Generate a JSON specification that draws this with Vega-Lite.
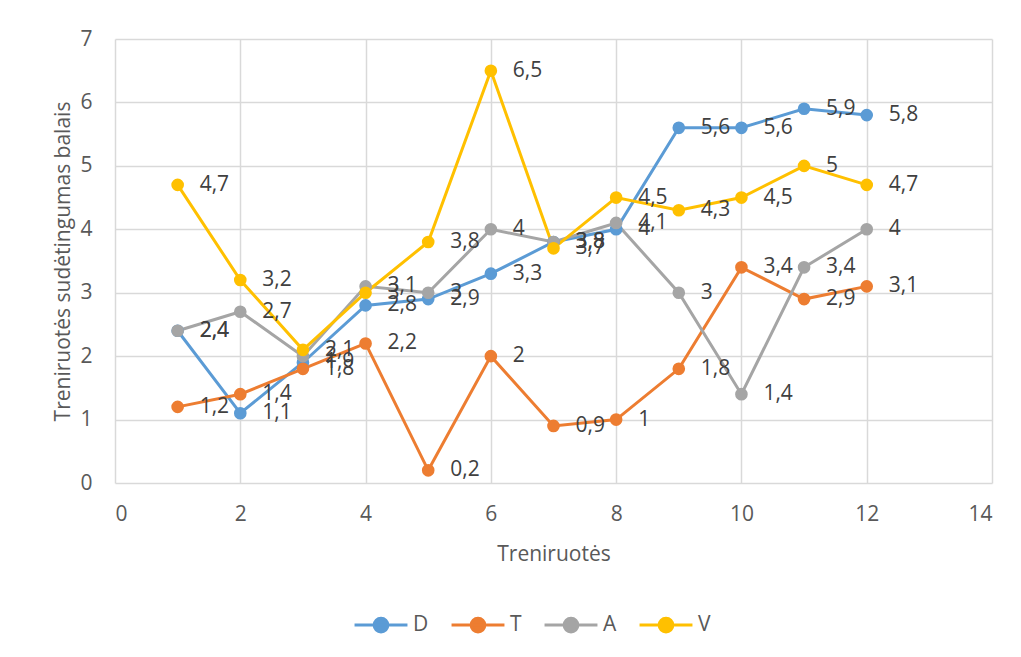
{
  "$schema": "https://vega.github.io/schema/vega-lite/v6.json",
  "autosize": "none",
  "width": 877,
  "height": 444,
  "padding": {"left": 115, "top": 39, "right": 29, "bottom": 174},
  "background": "white",
  "config": {
    "locale": {"number": {"decimal": ",", "thousands": " ", "grouping": [3], "currency": ["", " €"]}},
    "font": "Open Sans",
    "view": {"stroke": null},
    "axis": {
      "domain": false,
      "ticks": false,
      "gridColor": "#D9D9D9",
      "gridWidth": 1.5,
      "labelColor": "#595959",
      "labelFontSize": 21,
      "titleColor": "#595959",
      "titleFontSize": 21,
      "titleFontWeight": "normal"
    }
  },
  "data": {
    "values": [
      {"x": 1, "s": "D", "y": 2.4}, {"x": 2, "s": "D", "y": 1.1}, {"x": 3, "s": "D", "y": 1.9}, {"x": 4, "s": "D", "y": 2.8},
      {"x": 5, "s": "D", "y": 2.9}, {"x": 6, "s": "D", "y": 3.3}, {"x": 7, "s": "D", "y": 3.8}, {"x": 8, "s": "D", "y": 4},
      {"x": 9, "s": "D", "y": 5.6}, {"x": 10, "s": "D", "y": 5.6}, {"x": 11, "s": "D", "y": 5.9}, {"x": 12, "s": "D", "y": 5.8},
      {"x": 1, "s": "T", "y": 1.2}, {"x": 2, "s": "T", "y": 1.4}, {"x": 3, "s": "T", "y": 1.8}, {"x": 4, "s": "T", "y": 2.2},
      {"x": 5, "s": "T", "y": 0.2}, {"x": 6, "s": "T", "y": 2}, {"x": 7, "s": "T", "y": 0.9}, {"x": 8, "s": "T", "y": 1},
      {"x": 9, "s": "T", "y": 1.8}, {"x": 10, "s": "T", "y": 3.4}, {"x": 11, "s": "T", "y": 2.9}, {"x": 12, "s": "T", "y": 3.1},
      {"x": 1, "s": "A", "y": 2.4}, {"x": 2, "s": "A", "y": 2.7}, {"x": 3, "s": "A", "y": 2}, {"x": 4, "s": "A", "y": 3.1},
      {"x": 5, "s": "A", "y": 3}, {"x": 6, "s": "A", "y": 4}, {"x": 7, "s": "A", "y": 3.8}, {"x": 8, "s": "A", "y": 4.1},
      {"x": 9, "s": "A", "y": 3}, {"x": 10, "s": "A", "y": 1.4}, {"x": 11, "s": "A", "y": 3.4}, {"x": 12, "s": "A", "y": 4},
      {"x": 1, "s": "V", "y": 4.7}, {"x": 2, "s": "V", "y": 3.2}, {"x": 3, "s": "V", "y": 2.1}, {"x": 4, "s": "V", "y": 3},
      {"x": 5, "s": "V", "y": 3.8}, {"x": 6, "s": "V", "y": 6.5}, {"x": 7, "s": "V", "y": 3.7}, {"x": 8, "s": "V", "y": 4.5},
      {"x": 9, "s": "V", "y": 4.3}, {"x": 10, "s": "V", "y": 4.5}, {"x": 11, "s": "V", "y": 5}, {"x": 12, "s": "V", "y": 4.7}
    ]
  },
  "encoding": {
    "x": {
      "field": "x", "type": "quantitative",
      "scale": {"domain": [0, 14], "nice": false},
      "axis": {"values": [0, 2, 4, 6, 8, 10, 12, 14], "title": "Treniruotės", "labelPadding": 20, "titlePadding": 19}
    },
    "y": {
      "field": "y", "type": "quantitative",
      "scale": {"domain": [0, 7], "nice": false},
      "axis": {"values": [0, 1, 2, 3, 4, 5, 6, 7], "title": "Treniruotės sudėtingumas balais", "labelPadding": 23, "titlePadding": 6}
    },
    "color": {
      "field": "s", "type": "nominal",
      "scale": {"domain": ["D", "T", "A", "V"], "range": ["#5B9BD5", "#ED7D31", "#A5A5A5", "#FFC000"]}
    }
  },
  "layer": [
    {
      "mark": {"type": "line", "strokeWidth": 3},
      "encoding": {
        "color": {
          "field": "s", "type": "nominal",
          "scale": {"domain": ["D", "T", "A", "V"], "range": ["#5B9BD5", "#ED7D31", "#A5A5A5", "#FFC000"]},
          "legend": {
            "title": null,
            "orient": "none",
            "direction": "horizontal",
            "legendX": 238,
            "legendY": 558,
            "symbolType": "M-1,0L1,0M-0.26,0A0.26,0.26,0,1,1,0.26,0A0.26,0.26,0,1,1,-0.26,0Z",
            "symbolSize": 2800,
            "symbolStrokeWidth": 3,
            "labelFontSize": 21,
            "labelColor": "#595959",
            "labelOffset": 4,
            "columnPadding": 16,
            "encode": {"symbols": {"update": {"fill": {"scale": "color", "field": "value"}, "fillOpacity": {"value": 1}}}}
          }
        }
      }
    },
    {
      "mark": {"type": "circle", "size": 160, "opacity": 1},
      "encoding": {"color": {"field": "s", "type": "nominal", "legend": null}}
    },
    {
      "mark": {"type": "text", "align": "left", "baseline": "middle", "dx": 22, "fontSize": 21},
      "encoding": {
        "text": {"field": "y", "type": "quantitative", "format": "~g"},
        "color": {"value": "#404040"}
      }
    }
  ]
}
